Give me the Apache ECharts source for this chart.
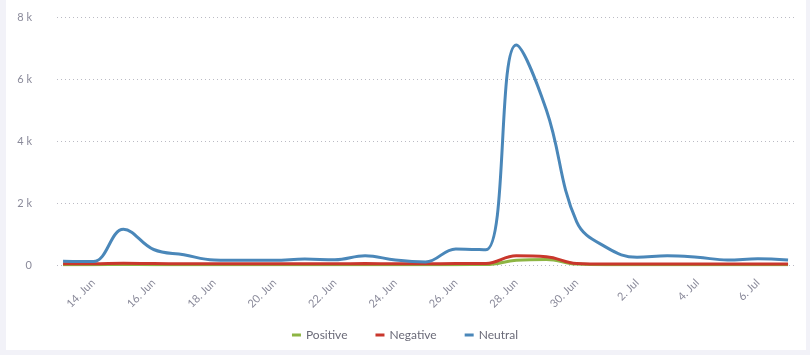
<!DOCTYPE html>
<html>
<head>
<meta charset="utf-8">
<script src="https://cdn.jsdelivr.net/npm/echarts@6/dist/echarts.min.js"></script>
<style>
html,body{margin:0;padding:0;background:#f2f2f8;width:810px;height:355px;overflow:hidden;}
#card{position:absolute;left:6px;top:0;width:800px;height:350px;background:#fff;}
#chart{position:absolute;left:0;top:0;width:810px;height:355px;}
</style>
</head>
<body>
<div id="card"></div>
<div id="chart"></div>
<script>
const categories = ["13. Jun","14. Jun","15. Jun","16. Jun","17. Jun","18. Jun","19. Jun","20. Jun","21. Jun","22. Jun","23. Jun","24. Jun","25. Jun","26. Jun","27. Jun","28. Jun","29. Jun","30. Jun","1. Jul","2. Jul","3. Jul","4. Jul","5. Jul","6. Jul","7. Jul"];
const positive = [10,10,15,12,10,10,10,10,10,10,12,10,10,12,15,150,180,30,10,10,10,10,10,10,10];
const negative = [40,40,55,45,40,40,40,40,40,40,45,40,40,45,50,300,270,50,30,30,30,30,30,30,30];
const neutral = [120,110,1150,500,330,160,150,150,190,170,300,160,100,520,490,7100,5000,1400,560,250,300,250,160,200,160];
const yTicks = [0,2000,4000,6000,8000];
const labelIdx = [1,3,5,7,9,11,13,15,17,19,21,23];

const toPairs = a => a.map((v,i)=>[i,v]);
const chart = echarts.init(document.getElementById('chart'), null, {renderer:'canvas'});
const font = 'Lato, "Open Sans", sans-serif';
const mk = (name, data, color, z) => ({
  name, type:'line', data: toPairs(data), smooth:0.4, showSymbol:false, symbol:'none',
  lineStyle:{width:3,color}, itemStyle:{color}, z
});
chart.setOption({
  animation:false,
  textStyle:{fontFamily:font},
  grid:{left:57,right:15,top:17,bottom:90,containLabel:false},
  xAxis:{
    type:'value', min:-0.2, max:24.23,
    axisLine:{show:false}, axisTick:{show:false}, splitLine:{show:false},
    axisLabel:{
      customValues: labelIdx,
      rotate:45, margin:16, color:'#8a8a9a', fontSize:11, fontFamily:font,
      formatter: v => categories[Math.round(v)] || ''
    }
  },
  yAxis:{
    type:'value', min:0, max:8000, interval:2000,
    axisLine:{show:false}, axisTick:{show:false},
    axisLabel:{color:'#8a8a9a', fontSize:11, fontFamily:font, margin:25,
      formatter: v => v===0 ? '0' : (v/1000)+' k'},
    splitLine:{lineStyle:{type:[1,3], color:'#bbbbc4', width:1}}
  },
  legend:{
    bottom:9, left:'center', itemGap:28,
    icon:'rect', itemWidth:9, itemHeight:3,
    textStyle:{color:'#6a6a78', fontSize:12, fontFamily:font},
    data:['Positive','Negative','Neutral']
  },
  series:[
    mk('Positive', positive, '#8db543', 3),
    mk('Negative', negative, '#c9372c', 4),
    mk('Neutral', neutral, '#4a87b9', 5)
  ]
});
</script>
</body>
</html>
